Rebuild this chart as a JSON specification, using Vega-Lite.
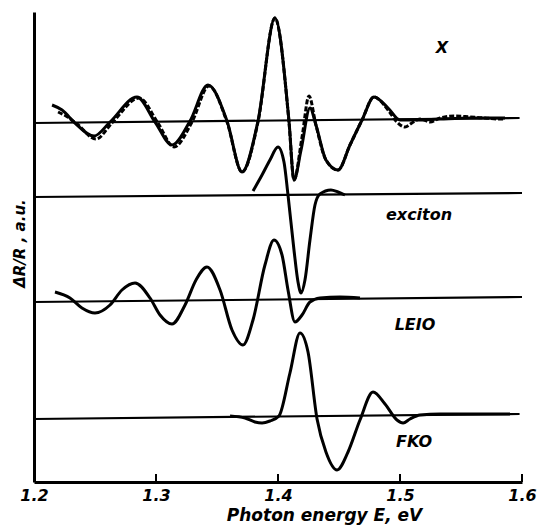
{
  "$schema": "https://vega.github.io/schema/vega-lite/v6.json",
  "width": 488,
  "height": 470,
  "autosize": {"type": "none"},
  "padding": {"left": 34, "top": 12, "right": 15, "bottom": 50},
  "background": "white",
  "config": {"view": {"stroke": null}},
  "datasets": {
    "curves": [
      {"s": "X", "E": 1.2148, "v": 377}, {"s": "X", "E": 1.2230, "v": 372}, {"s": "X", "E": 1.2336, "v": 359},
      {"s": "X", "E": 1.2492, "v": 346}, {"s": "X", "E": 1.2623, "v": 360}, {"s": "X", "E": 1.2844, "v": 385},
      {"s": "X", "E": 1.2992, "v": 360}, {"s": "X", "E": 1.3131, "v": 337}, {"s": "X", "E": 1.3279, "v": 361},
      {"s": "X", "E": 1.3426, "v": 397}, {"s": "X", "E": 1.3582, "v": 361}, {"s": "X", "E": 1.3705, "v": 310},
      {"s": "X", "E": 1.3836, "v": 361}, {"s": "X", "E": 1.3975, "v": 464}, {"s": "X", "E": 1.4090, "v": 361},
      {"s": "X", "E": 1.4131, "v": 302}, {"s": "X", "E": 1.4189, "v": 332}, {"s": "X", "E": 1.4262, "v": 374},
      {"s": "X", "E": 1.4311, "v": 357}, {"s": "X", "E": 1.4393, "v": 322}, {"s": "X", "E": 1.4492, "v": 312},
      {"s": "X", "E": 1.4590, "v": 337}, {"s": "X", "E": 1.4689, "v": 362}, {"s": "X", "E": 1.4787, "v": 385},
      {"s": "X", "E": 1.4902, "v": 374}, {"s": "X", "E": 1.5000, "v": 362}, {"s": "X", "E": 1.5123, "v": 362},
      {"s": "X", "E": 1.5328, "v": 363}, {"s": "X", "E": 1.5574, "v": 364}, {"s": "X", "E": 1.5861, "v": 364},

      {"s": "Xd", "E": 1.2197, "v": 370}, {"s": "Xd", "E": 1.2262, "v": 366}, {"s": "Xd", "E": 1.2344, "v": 359},
      {"s": "Xd", "E": 1.2508, "v": 343}, {"s": "Xd", "E": 1.2639, "v": 359}, {"s": "Xd", "E": 1.2861, "v": 384},
      {"s": "Xd", "E": 1.3016, "v": 359}, {"s": "Xd", "E": 1.3148, "v": 335}, {"s": "Xd", "E": 1.3295, "v": 360},
      {"s": "Xd", "E": 1.3434, "v": 396}, {"s": "Xd", "E": 1.3582, "v": 360}, {"s": "Xd", "E": 1.3705, "v": 310},
      {"s": "Xd", "E": 1.3836, "v": 360}, {"s": "Xd", "E": 1.3975, "v": 464}, {"s": "Xd", "E": 1.4090, "v": 360},
      {"s": "Xd", "E": 1.4131, "v": 302}, {"s": "Xd", "E": 1.4197, "v": 345}, {"s": "Xd", "E": 1.4254, "v": 386},
      {"s": "Xd", "E": 1.4311, "v": 357}, {"s": "Xd", "E": 1.4393, "v": 322}, {"s": "Xd", "E": 1.4492, "v": 312},
      {"s": "Xd", "E": 1.4590, "v": 337}, {"s": "Xd", "E": 1.4689, "v": 362}, {"s": "Xd", "E": 1.4787, "v": 385},
      {"s": "Xd", "E": 1.4902, "v": 372}, {"s": "Xd", "E": 1.4975, "v": 360}, {"s": "Xd", "E": 1.5041, "v": 355},
      {"s": "Xd", "E": 1.5098, "v": 359}, {"s": "Xd", "E": 1.5164, "v": 363}, {"s": "Xd", "E": 1.5246, "v": 360},
      {"s": "Xd", "E": 1.5328, "v": 364}, {"s": "Xd", "E": 1.5451, "v": 366}, {"s": "Xd", "E": 1.5574, "v": 365},
      {"s": "Xd", "E": 1.5697, "v": 364}, {"s": "Xd", "E": 1.5820, "v": 363}, {"s": "Xd", "E": 1.5861, "v": 363},

      {"s": "exc", "E": 1.3795, "v": 291}, {"s": "exc", "E": 1.3869, "v": 307}, {"s": "exc", "E": 1.3934, "v": 322},
      {"s": "exc", "E": 1.4000, "v": 335}, {"s": "exc", "E": 1.4049, "v": 320}, {"s": "exc", "E": 1.4082, "v": 287},
      {"s": "exc", "E": 1.4131, "v": 232}, {"s": "exc", "E": 1.4164, "v": 200}, {"s": "exc", "E": 1.4189, "v": 189},
      {"s": "exc", "E": 1.4221, "v": 202}, {"s": "exc", "E": 1.4262, "v": 242}, {"s": "exc", "E": 1.4303, "v": 277},
      {"s": "exc", "E": 1.4344, "v": 288}, {"s": "exc", "E": 1.4434, "v": 292}, {"s": "exc", "E": 1.4492, "v": 290},
      {"s": "exc", "E": 1.4549, "v": 287},

      {"s": "LEIO", "E": 1.2172, "v": 190}, {"s": "LEIO", "E": 1.2295, "v": 184}, {"s": "LEIO", "E": 1.2393, "v": 174},
      {"s": "LEIO", "E": 1.2500, "v": 169}, {"s": "LEIO", "E": 1.2623, "v": 177}, {"s": "LEIO", "E": 1.2721, "v": 192},
      {"s": "LEIO", "E": 1.2828, "v": 199}, {"s": "LEIO", "E": 1.2951, "v": 184}, {"s": "LEIO", "E": 1.3033, "v": 167},
      {"s": "LEIO", "E": 1.3131, "v": 158}, {"s": "LEIO", "E": 1.3238, "v": 177}, {"s": "LEIO", "E": 1.3328, "v": 202},
      {"s": "LEIO", "E": 1.3418, "v": 215}, {"s": "LEIO", "E": 1.3525, "v": 192}, {"s": "LEIO", "E": 1.3623, "v": 152},
      {"s": "LEIO", "E": 1.3713, "v": 137}, {"s": "LEIO", "E": 1.3795, "v": 162}, {"s": "LEIO", "E": 1.3893, "v": 217},
      {"s": "LEIO", "E": 1.3967, "v": 242}, {"s": "LEIO", "E": 1.4033, "v": 227}, {"s": "LEIO", "E": 1.4082, "v": 192},
      {"s": "LEIO", "E": 1.4139, "v": 160}, {"s": "LEIO", "E": 1.4197, "v": 167}, {"s": "LEIO", "E": 1.4262, "v": 180},
      {"s": "LEIO", "E": 1.4344, "v": 184}, {"s": "LEIO", "E": 1.4508, "v": 185}, {"s": "LEIO", "E": 1.4672, "v": 184},

      {"s": "FKO", "E": 1.3607, "v": 66}, {"s": "FKO", "E": 1.3730, "v": 64}, {"s": "FKO", "E": 1.3811, "v": 60},
      {"s": "FKO", "E": 1.3869, "v": 59}, {"s": "FKO", "E": 1.3934, "v": 61}, {"s": "FKO", "E": 1.4008, "v": 66},
      {"s": "FKO", "E": 1.4098, "v": 109}, {"s": "FKO", "E": 1.4180, "v": 149}, {"s": "FKO", "E": 1.4246, "v": 130},
      {"s": "FKO", "E": 1.4320, "v": 63}, {"s": "FKO", "E": 1.4393, "v": 30}, {"s": "FKO", "E": 1.4484, "v": 12},
      {"s": "FKO", "E": 1.4574, "v": 30}, {"s": "FKO", "E": 1.4672, "v": 62}, {"s": "FKO", "E": 1.4779, "v": 90},
      {"s": "FKO", "E": 1.4877, "v": 78}, {"s": "FKO", "E": 1.4975, "v": 62}, {"s": "FKO", "E": 1.5025, "v": 59},
      {"s": "FKO", "E": 1.5082, "v": 63}, {"s": "FKO", "E": 1.5164, "v": 67}, {"s": "FKO", "E": 1.5328, "v": 68},
      {"s": "FKO", "E": 1.5574, "v": 68}, {"s": "FKO", "E": 1.5902, "v": 68}
    ],
    "baselines": [
      {"s": "X", "E": 1.2, "v": 359}, {"s": "X", "E": 1.598, "v": 364},
      {"s": "exc", "E": 1.2, "v": 285}, {"s": "exc", "E": 1.6, "v": 289},
      {"s": "LEIO", "E": 1.2, "v": 180}, {"s": "LEIO", "E": 1.6, "v": 185},
      {"s": "FKO", "E": 1.2, "v": 63}, {"s": "FKO", "E": 1.598, "v": 68}
    ],
    "ticks": [
      {"E": 1.3, "v0": 0, "v1": 8}, {"E": 1.4, "v0": 0, "v1": 8},
      {"E": 1.5, "v0": 0, "v1": 8}, {"E": 1.6, "v0": 0, "v1": 8}
    ],
    "labels": [
      {"t": "X", "E": 1.5344, "v": 434},
      {"t": "exciton", "E": 1.5156, "v": 267},
      {"t": "LEIO", "E": 1.5123, "v": 157},
      {"t": "FKO", "E": 1.5115, "v": 40}
    ]
  },
  "layer": [
    {
      "data": {"name": "baselines"},
      "mark": {"type": "line", "color": "black", "strokeWidth": 2.2},
      "encoding": {
        "x": {"field": "E", "type": "quantitative", "scale": {"domain": [1.2, 1.6], "nice": false, "zero": false},
          "axis": {"values": [1.2, 1.3, 1.4, 1.5, 1.6], "format": ".1f", "domainColor": "black", "domainWidth": 3,
            "ticks": false, "labelPadding": 5, "labelFlush": false, "labelOverlap": false, "grid": false,
            "labelFont": "DejaVu Sans", "labelFontSize": 16, "labelFontStyle": "italic", "labelFontWeight": "bold", "labelColor": "black",
            "title": "Photon energy E, eV", "titleFont": "DejaVu Sans", "titleFontSize": 17, "titleFontStyle": "italic", "titleFontWeight": "bold",
            "titleColor": "black", "titleX": 290, "titleY": 38, "titleBaseline": "alphabetic", "titleAnchor": "middle"}},
        "y": {"field": "v", "type": "quantitative", "scale": {"domain": [0, 470], "nice": false, "zero": false},
          "axis": {"labels": false, "ticks": false, "grid": false, "domainColor": "black", "domainWidth": 3,
            "title": "ΔR/R , a.u.", "titleFont": "DejaVu Sans", "titleFontSize": 15, "titleFontStyle": "italic", "titleFontWeight": "bold",
            "titleColor": "black", "titleX": -15, "titleY": 231, "titleAngle": -90, "titleAnchor": "middle", "titleBaseline": "middle"}},
        "detail": {"field": "s"}
      }
    },
    {
      "data": {"name": "ticks"},
      "mark": {"type": "rule", "color": "black", "strokeWidth": 2},
      "encoding": {
        "x": {"field": "E", "type": "quantitative"},
        "y": {"field": "v0", "type": "quantitative"},
        "y2": {"field": "v1"}
      }
    },
    {
      "data": {"name": "curves"},
      "transform": [{"filter": "datum.s === 'Xd'"}],
      "mark": {"type": "line", "color": "black", "strokeWidth": 3, "strokeDash": [5, 2], "interpolate": "monotone"},
      "encoding": {
        "x": {"field": "E", "type": "quantitative"},
        "y": {"field": "v", "type": "quantitative"}
      }
    },
    {
      "data": {"name": "curves"},
      "transform": [{"filter": "datum.s !== 'Xd'"}],
      "mark": {"type": "line", "color": "black", "strokeWidth": 3, "interpolate": "monotone"},
      "encoding": {
        "x": {"field": "E", "type": "quantitative"},
        "y": {"field": "v", "type": "quantitative"},
        "detail": {"field": "s"}
      }
    },
    {
      "data": {"name": "labels"},
      "mark": {"type": "text", "font": "DejaVu Sans", "fontSize": 16, "fontStyle": "italic", "fontWeight": "bold", "color": "black", "align": "center", "baseline": "middle"},
      "encoding": {
        "x": {"field": "E", "type": "quantitative"},
        "y": {"field": "v", "type": "quantitative"},
        "text": {"field": "t"}
      }
    }
  ]
}
